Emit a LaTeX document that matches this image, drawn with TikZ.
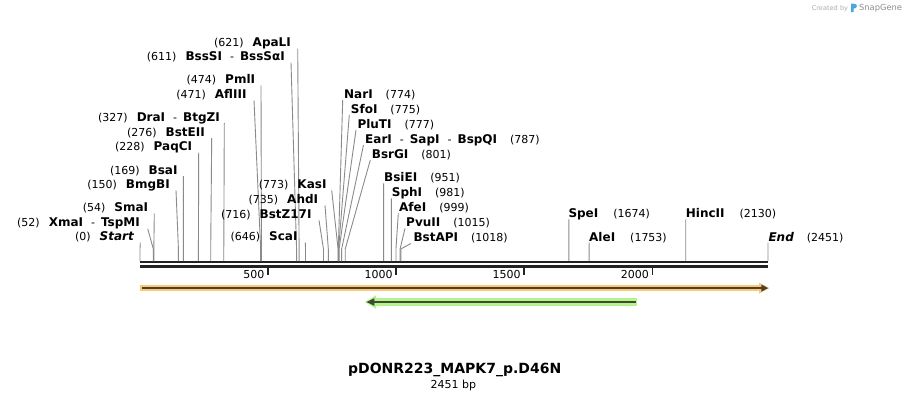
\documentclass[tikz,border=0pt]{standalone}
\usepackage{fontspec}
\setmainfont{DejaVu Sans}
\usetikzlibrary{arrows.meta}
\definecolor{sitegray}{HTML}{8A8A8A}
\definecolor{seqblack}{HTML}{222222}
\definecolor{orangeband}{HTML}{F9C878}
\definecolor{orangeline}{HTML}{4D3F2A}
\definecolor{greenband}{HTML}{B6F28E}
\definecolor{greenline}{HTML}{3E4B33}
\definecolor{logoblue}{HTML}{4BA6E0}
\newcommand{\nnum}[1]{{\fontsize{11}{13}\selectfont(#1)}}
\newcommand{\nname}[1]{{\fontsize{12}{14}\selectfont\bfseries #1}}
\newcommand{\nsep}{\hspace{8pt}{\fontsize{11}{13}\selectfont -}\hspace{6pt}}
% left label: id, pos, text right x, baseline y, line top x, content
\newcommand{\lsite}[6]{%
  \node[lbl, anchor=base east] (#1) at (#3,#4) {#6};
  \coordinate (#1t) at (#5,#4+2);
  \coordinate (#1b) at ({140+#2*0.256222},249);
  \coordinate (#1s) at ({140+#2*0.256222},261);
  \draw[siteline] (#1t) -- (#1b) -- (#1s);
}
% right label: id, pos, text left x, baseline y, line top x, content
\newcommand{\rsite}[6]{%
  \node[lbl, anchor=base west] (#1) at (#3,#4) {#6};
  \coordinate (#1t) at (#5,#4+1.7);
  \coordinate (#1b) at ({140+#2*0.256222},249);
  \coordinate (#1s) at ({140+#2*0.256222},261);
  \draw[siteline] (#1t) -- (#1b) -- (#1s);
}
\begin{document}
\begin{tikzpicture}[x=1pt,y=-1pt,
  lbl/.style={inner sep=0pt, text=black},
  siteline/.style={draw=sitegray, line width=0.9pt},
  seqline/.style={draw=seqblack, line width=2.5pt},
  tickmark/.style={draw=seqblack, line width=1.8pt},
  ticklbl/.style={inner sep=0pt, anchor=base east, font=\fontsize{11}{13}\selectfont},
  band/.style={line width=0pt}]
\useasboundingbox (0,0) rectangle (909,400);

% sequence lines
\coordinate (s0a) at (140,262.2); \coordinate (s1a) at (768,262.2);
\coordinate (s0b) at (140,266.4); \coordinate (s1b) at (768,266.4);
\draw[seqline] (s0a) -- (s1a);
\draw[seqline] (s0b) -- (s1b);

% left-side labels
\lsite{ApaLI}{621}{291}{46.5}{297.7}{\nnum{621}\hspace{9pt}\nname{ApaLI}}
\lsite{BssSI}{611}{285}{60.7}{291}{\nnum{611}\hspace{9pt}\nname{BssSI}\nsep\nname{BssSαI}}
\lsite{PmlI}{474}{255.3}{83.3}{261}{\nnum{474}\hspace{9pt}\nname{PmlI}}
\lsite{AflIII}{471}{246.7}{98.3}{254}{\nnum{471}\hspace{9pt}\nname{AflIII}}
\lsite{DraI}{327}{220}{121}{224.3}{\nnum{327}\hspace{9pt}\nname{DraI}\nsep\nname{BtgZI}}
\lsite{BstEII}{276}{205}{136}{211.7}{\nnum{276}\hspace{9pt}\nname{BstEII}}
\lsite{PaqCI}{228}{192.3}{150.7}{198.7}{\nnum{228}\hspace{9pt}\nname{PaqCI}}
\lsite{BsaI}{169}{177.7}{174}{183.3}{\nnum{169}\hspace{9pt}\nname{BsaI}}
\lsite{BmgBI}{150}{170}{188.3}{176}{\nnum{150}\hspace{9pt}\nname{BmgBI}}
\lsite{SmaI}{54}{148.3}{211.7}{154.3}{\nnum{54}\hspace{9pt}\nname{SmaI}}
\lsite{XmaI}{52}{140}{226.7}{147.7}{\nnum{52}\hspace{9pt}\nname{XmaI}\nsep\nname{TspMI}}
\lsite{Start}{0}{134}{240.7}{140.3}{\nnum{0}\hspace{9pt}\nname{\itshape Start}}
\lsite{KasI}{773}{326.7}{188.3}{331.7}{\nnum{773}\hspace{9pt}\nname{KasI}}
\lsite{AhdI}{735}{318.3}{203.3}{325}{\nnum{735}\hspace{9pt}\nname{AhdI}}
\lsite{BstZ}{716}{311.7}{218.3}{319}{\nnum{716}\hspace{9pt}\nname{BstZ17I}}
\lsite{ScaI}{646}{297.7}{240.7}{305.3}{\nnum{646}\hspace{9pt}\nname{ScaI}}

% right-side labels
\rsite{NarI}{774}{344}{98.3}{342.7}{\nname{NarI}\hspace{13pt}\nnum{774}}
\rsite{SfoI}{775}{350.7}{113.3}{349.3}{\nname{SfoI}\hspace{13pt}\nnum{775}}
\rsite{PluTI}{777}{357.3}{128.3}{356}{\nname{PluTI}\hspace{13pt}\nnum{777}}
\rsite{EarI}{787}{365}{143.3}{363.5}{\nname{EarI}\nsep\nname{SapI}\nsep\nname{BspQI}\hspace{13pt}\nnum{787}}
\rsite{BsrGI}{801}{371.7}{158.3}{370.3}{\nname{BsrGI}\hspace{13pt}\nnum{801}}
\rsite{BsiEI}{951}{384}{181.7}{383.6}{\nname{BsiEI}\hspace{13pt}\nnum{951}}
\rsite{SphI}{981}{391.7}{196.7}{391.3}{\nname{SphI}\hspace{13pt}\nnum{981}}
\rsite{AfeI}{999}{399}{211.7}{398.3}{\nname{AfeI}\hspace{13pt}\nnum{999}}
\rsite{PvuII}{1015}{406}{226.7}{405}{\nname{PvuII}\hspace{13pt}\nnum{1015}}
\rsite{BstAPI}{1018}{413.3}{241.7}{411}{\nname{BstAPI}\hspace{13pt}\nnum{1018}}
\rsite{SpeI}{1674}{568.3}{217.7}{568.9}{\nname{SpeI}\hspace{15pt}\nnum{1674}}
\rsite{AleI}{1753}{589}{241}{589.2}{\nname{AleI}\hspace{15pt}\nnum{1753}}
\rsite{HincII}{2130}{685.7}{217.7}{685.75}{\nname{HincII}\hspace{15pt}\nnum{2130}}
\rsite{End}{2451}{768.3}{241}{768}{\nname{\itshape End}\hspace{13pt}\nnum{2451}}

% ruler ticks
\foreach \p/\t in {500/t5,1000/t10,1500/t15,2000/t20}{
  \coordinate (\t a) at ({140+\p*0.256222},267);
  \coordinate (\t b) at ({140+\p*0.256222},274.5);
  \draw[tickmark] (\t a) -- (\t b);
  \node[ticklbl] (\t l) at ({140+\p*0.256222-3.5},278) {\p};
}

% orange feature (forward)
\fill[orangeband] (140,285) rectangle (761,291);
\fill[orangeband] (759,282.5) -- (769.5,288.1) -- (759,293.7) -- cycle;
\coordinate (of0) at (141.7,288.1); \coordinate (of1) at (768.3,288.1);
\draw[draw=orangeline, line width=1.8pt, -{Triangle[length=7pt,width=6.5pt]}] (of0) -- (of1);

% green feature (reverse)
\fill[greenband] (374,298.3) rectangle (637,305.7);
\fill[greenband] (376,295.3) -- (364.8,302) -- (376,308.7) -- cycle;
\coordinate (gf0) at (636,302); \coordinate (gf1) at (366.3,302);
\draw[draw=greenline, line width=1.8pt, -{Triangle[length=8pt,width=7pt]}] (gf0) -- (gf1);

% title
\node[anchor=base, inner sep=0pt, font=\fontsize{14}{16}\selectfont\bfseries] (title) at (454.7,373.5) {pDONR223\_MAPK7\_p.D46N};
\node[anchor=base, inner sep=0pt, font=\fontsize{11}{13}\selectfont] (len) at (453.4,388.5) {2451 bp};

% created by
\node[anchor=base east, inner sep=0pt, text=black!32, font=\fontsize{6.6}{8}\selectfont] (cby) at (848.3,10.6) {Created by};
\fill[logoblue] (851,3.6) -- (851,12) -- (853.6,12) -- (853.6,8.6) .. controls (858,8.6) and (858,3.6) .. (853.6,3.6) -- cycle;
\node[anchor=base west, inner sep=0pt, text=black!45, font=\fontsize{8.3}{10}\selectfont] (sg) at (859,10.8) {SnapGene};
\end{tikzpicture}
\end{document}
